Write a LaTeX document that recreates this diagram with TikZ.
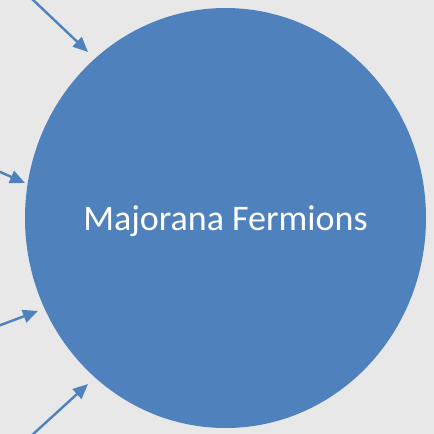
\documentclass[tikz,border=0pt]{standalone}
\usepackage{fontspec}
\setmainfont{Carlito}
\usetikzlibrary{shapes.geometric,arrows.meta}
\definecolor{mfblue}{RGB}{79,129,189}
\definecolor{bggray}{RGB}{232,232,232}
\tikzset{
  bigcircle/.style={ellipse, fill=mfblue, draw=none, inner sep=0pt,
    minimum width=401pt, minimum height=420pt, text=white,
    font=\fontsize{36}{42}\selectfont},
  arr/.style={draw=mfblue, line width=2.4pt, -{Triangle[length=15pt,width=13pt]}}
}
\begin{document}
\begin{tikzpicture}[x=1pt,y=-1pt]
\useasboundingbox (0,0) rectangle (434,434);
\fill[bggray] (0,0) rectangle (434,434);
\node[bigcircle] (mf) at (225.5,218) {};
\node[text=white, font=\fontsize{36}{42}\selectfont, inner sep=0pt] (lbl) at ([yshift=-3pt]mf.center) {Majorana Fermions};
\coordinate (s1) at (30,-3);
\coordinate (t1) at (88,52);
\coordinate (s2) at (-2,171);
\coordinate (t2) at (25,183);
\coordinate (s3) at (-2,326);
\coordinate (t3) at (38,311);
\coordinate (s4) at (30,437);
\coordinate (t4) at (88,384);
\draw[arr] (s1) -- (t1);
\draw[arr] (s2) -- (t2);
\draw[arr] (s3) -- (t3);
\draw[arr] (s4) -- (t4);
\end{tikzpicture}
\end{document}
